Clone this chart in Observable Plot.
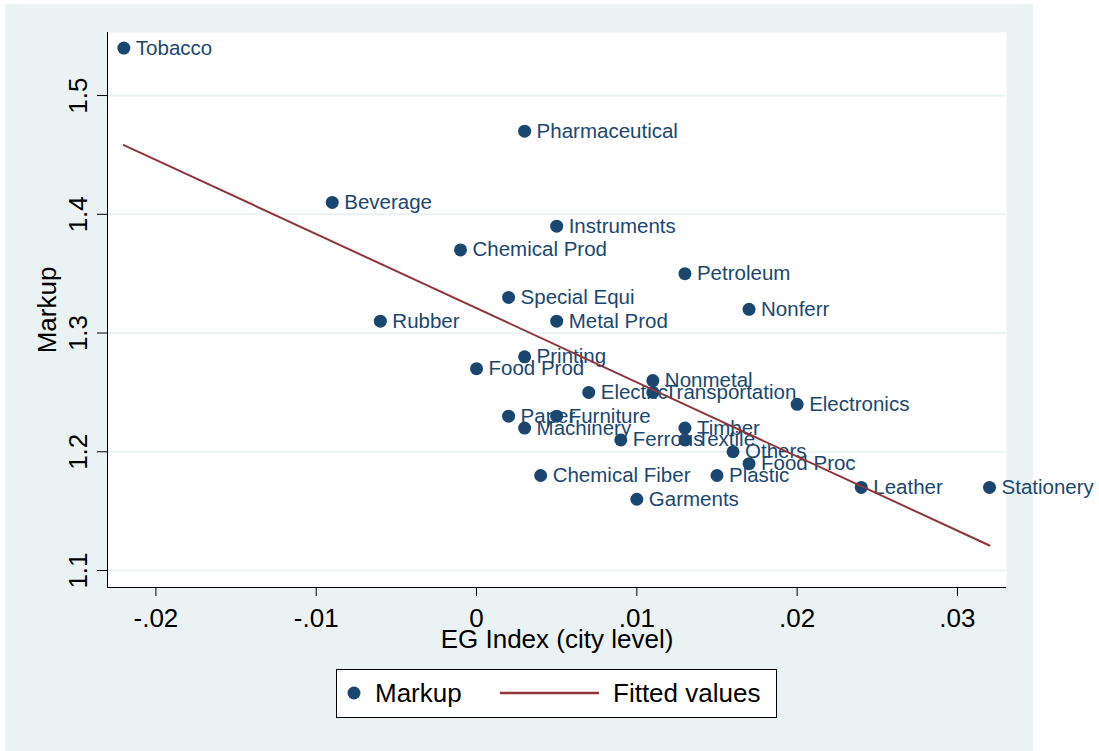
<!DOCTYPE html>
<html>
<head>
<meta charset="utf-8">
<script src="https://cdn.jsdelivr.net/npm/d3@7"></script>
<script src="https://cdn.jsdelivr.net/npm/@observablehq/plot@0.6"></script>
<style>
  html, body { margin: 0; padding: 0; background: white; }
  #chart svg { display: block; }
</style>
</head>
<body>
<div id="chart"></div>
<script>
// ---- data ----
const industries = ["Tobacco","Pharmaceutical","Beverage","Instruments","Chemical Prod","Petroleum","Special Equi","Nonferr","Rubber","Metal Prod","Printing","Food Prod","Nonmetal","Electric","Transportation","Electronics","Paper","Furniture","Machinery","Timber","Ferrous","Textile","Others","Food Proc","Chemical Fiber","Plastic","Leather","Stationery","Garments"];
const egIndex = [-0.022,0.003,-0.009,0.005,-0.001,0.013,0.002,0.017,-0.006,0.005,0.003,0.000,0.011,0.007,0.011,0.020,0.002,0.005,0.003,0.013,0.009,0.013,0.016,0.017,0.004,0.015,0.024,0.032,0.010];
const markup = [1.54,1.47,1.41,1.39,1.37,1.35,1.33,1.32,1.31,1.31,1.28,1.27,1.26,1.25,1.25,1.24,1.23,1.23,1.22,1.22,1.21,1.21,1.20,1.19,1.18,1.18,1.17,1.17,1.16];
const xTicks = [-0.02,-0.01,0,0.01,0.02,0.03];
const yTicks = [1.1,1.2,1.3,1.4,1.5];
const xLabel = "EG Index (city level)";
const yLabel = "Markup";
const legendLabels = ["Markup","Fitted values"];

// ---- layout / style settings ----
const W = 1099, H = 751;
const navy = "#1a476f", maroon = "#90353b", bg = "#eaf2f3";
const xDomain = [-0.02302, 0.03306];
const yDomain = [1.0857, 1.5531];
const font = "'Liberation Sans', Arial, Helvetica, sans-serif";
const axisFont = 26, labelFont = 20.5;

const data = industries.map((name, i) => ({name, x: egIndex[i], y: markup[i]}));
// Stata style: no leading zero, ASCII hyphen for negatives
const fmtX = v => v === 0 ? "0" : (v < 0 ? "-" : "") + Math.abs(v).toFixed(2).replace(/^0/, "");
const fmtY = v => v.toFixed(1);

const chart = Plot.plot({
  width: W,
  height: H,
  marginLeft: 107,
  marginTop: 32,
  marginRight: W - 1006,
  marginBottom: H - 587,
  style: {fontFamily: font, fontSize: axisFont + "px", background: "white", color: "black", overflow: "visible"},
  x: {domain: xDomain, axis: null},
  y: {domain: yDomain, axis: null},
  marks: [
    Plot.frame({fill: "white", stroke: "none"}),
    Plot.gridY(yTicks, {stroke: bg, strokeOpacity: 1, strokeWidth: 2}),
    Plot.dot(data, {x: "x", y: "y", r: 6.5, fill: navy, stroke: "none"}),
    Plot.text(data, {x: "x", y: "y", text: "name", dx: 12, textAnchor: "start", fill: navy, fontSize: labelFont}),
    Plot.linearRegressionY(data, {x: "x", y: "y", ci: 0, stroke: maroon, strokeWidth: 2}),
    Plot.axisX(xTicks, {tickSize: 9, tickPadding: 12, tickFormat: fmtX, label: null, stroke: "black", fill: "black", fontSize: axisFont}),
    Plot.axisY(yTicks, {tickSize: 10, tickPadding: 11, tickRotate: -90, tickFormat: fmtY, label: null, stroke: "black", fill: "black", fontSize: axisFont}),
    Plot.ruleX([xDomain[0]], {stroke: "black", strokeWidth: 1}),
    Plot.ruleY([yDomain[0]], {stroke: "black", strokeWidth: 1}),
    Plot.text([xLabel], {frameAnchor: "bottom", dy: 60, lineAnchor: "bottom", textAnchor: "middle", fill: "black", fontSize: axisFont}),
    Plot.text([yLabel], {frameAnchor: "left", dx: -52, rotate: -90, lineAnchor: "bottom", textAnchor: "middle", fill: "black", fontSize: axisFont})
  ]
});

document.getElementById("chart").appendChild(chart);

// outer light background region (graph region)
const svg = d3.select(chart);
svg.insert("rect", ":first-child")
  .attr("x", 5).attr("y", 4).attr("width", 1028).attr("height", H - 4)
  .attr("fill", bg);

// legend box below the plot
const lg = svg.append("g").attr("font-family", font).attr("font-size", axisFont).attr("text-anchor", "start");
lg.append("rect").attr("x", 336.5).attr("y", 669.5).attr("width", 440).attr("height", 48)
  .attr("fill", "white").attr("stroke", "black").attr("stroke-width", 1);
lg.append("circle").attr("cx", 354).attr("cy", 693).attr("r", 6.5).attr("fill", navy);
lg.append("text").attr("x", 375).attr("y", 693).attr("dy", "0.35em").attr("text-anchor", "start").attr("fill", "black").text(legendLabels[0]);
lg.append("line").attr("x1", 500).attr("x2", 599).attr("y1", 693).attr("y2", 693)
  .attr("stroke", maroon).attr("stroke-width", 2.5);
lg.append("text").attr("x", 613).attr("y", 693).attr("dy", "0.35em").attr("text-anchor", "start").attr("fill", "black").text(legendLabels[1]);
</script>
</body>
</html>
